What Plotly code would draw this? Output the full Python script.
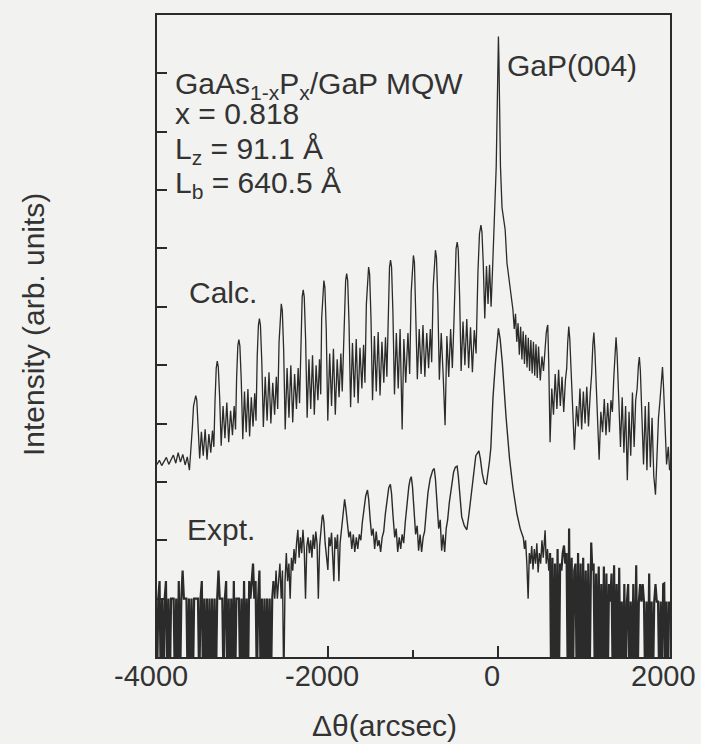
import plotly.graph_objects as go

# ---------------- data ----------------
# x: delta-theta in arcsec ; y: log10 intensity (decades, arbitrary offset)
NO_COUNTS = -0.6   # zero detector counts (log undefined -> drawn to the axis floor)
Z = NO_COUNTS

calc_dtheta = (
    [-4000, -3972, -3945, -3918, -3890, -3862, -3835, -3808, -3780, -3752, -3725, -3698, -3670, -3645, -3620, -3600, -3585, -3572, -3558]
    + [-3546, -3534, -3518, -3500, -3480, -3458, -3436, -3414, -3392, -3370, -3350, -3334, -3320, -3306]
    + [-3294, -3282, -3266, -3248, -3226, -3204, -3182, -3160, -3138, -3116, -3096, -3080, -3067, -3053]
    + [-3041, -3029, -3013, -2995, -2975, -2955, -2935, -2915, -2895, -2875, -2855, -2840, -2826, -2812]
    + [-2800, -2788, -2772, -2754, -2732, -2710, -2688, -2666, -2644, -2622, -2602, -2586, -2570, -2556]
    + [-2544, -2532, -2516, -2498, -2476, -2454, -2432, -2410, -2388, -2366, -2346, -2330, -2313, -2299]
    + [-2287, -2275, -2259, -2241, -2220, -2199, -2178, -2157, -2136, -2115, -2096, -2082, -2071, -2057]
    + [-2045, -2033, -2017, -1999, -1977, -1955, -1933, -1911, -1889, -1867, -1846, -1830, -1804, -1790]
    + [-1778, -1766, -1750, -1732, -1710, -1688, -1666, -1644, -1622, -1600, -1580, -1564, -1547, -1533]
    + [-1521, -1509, -1493, -1475, -1453, -1431, -1409, -1387, -1365, -1343, -1323, -1307, -1290, -1276]
    + [-1264, -1252, -1236, -1218, -1196, -1174, -1152, -1128, -1108, -1086, -1060, -1040, -1022, -1008]
    + [-996, -984, -968, -950, -928, -906, -884, -862, -840, -818, -798, -782, -764, -750]
    + [-738, -726, -710, -692, -670, -648, -625, -604, -582, -560, -540, -522, -509, -496]
    + [-483, -471, -455, -437, -415, -393, -371, -349, -327, -305, -283, -262, -240, -222]
    + [-205, -193, -178, -160, -140, -122, -104, -86, -70, -58, -42, -26, -12, -5]
    + [0, 5, 12, 24, 42, 79, 100, 125, 150]
    + [170, 185, 200, 215, 230, 245, 260, 275, 290, 305, 320, 335, 350, 365, 380, 395, 410, 425, 440, 455, 470, 490, 510, 528, 545, 560, 572]
    + [578, 590, 605, 625, 645, 665, 685, 705, 725, 745, 765, 785, 800, 812]
    + [824, 836, 860, 890, 915, 935, 955, 975, 995, 1015, 1035, 1055, 1075, 1092, 1106]
    + [1118, 1130, 1150, 1180, 1200, 1220, 1240, 1260, 1280, 1300, 1318, 1335, 1352, 1366]
    + [1378, 1390, 1408, 1430, 1450, 1470, 1490, 1510, 1530, 1550, 1570, 1590, 1608, 1625, 1640]
    + [1651, 1663, 1680, 1700, 1720, 1740, 1760, 1780, 1800, 1820, 1840, 1858, 1875, 1893, 1910]
    + [1922, 1935, 1950, 1970, 1990, 2005]
)
calc_logI = (
    [3.30, 3.37, 3.28, 3.35, 3.42, 3.30, 3.38, 3.46, 3.32, 3.50, 3.34, 3.47, 3.29, 3.43, 3.20, 3.55, 3.95, 4.30, 4.42]
    + [4.48, 4.40, 4.00, 3.40, 3.86, 3.45, 3.90, 3.38, 3.82, 3.50, 3.88, 3.60, 4.40, 4.95]
    + [5.07, 4.97, 4.45, 3.62, 4.30, 3.75, 4.36, 3.68, 4.22, 3.80, 4.30, 3.90, 4.80, 5.33]
    + [5.44, 5.33, 4.75, 3.73, 4.55, 3.85, 4.59, 3.78, 4.45, 3.95, 4.52, 4.05, 5.15, 5.68]
    + [5.80, 5.68, 5.05, 3.94, 4.80, 4.05, 4.88, 4.00, 4.70, 4.15, 4.80, 4.25, 5.40, 5.93]
    + [6.05, 5.93, 5.25, 3.90, 4.95, 4.10, 5.00, 4.02, 4.85, 4.25, 4.95, 4.35, 5.65, 6.17]
    + [6.29, 6.17, 5.45, 4.10, 5.10, 4.25, 5.17, 4.15, 5.00, 4.40, 5.10, 4.50, 5.80, 6.33]
    + [6.45, 6.33, 5.60, 4.05, 5.20, 4.30, 5.28, 4.15, 5.10, 4.45, 5.20, 4.55, 5.90, 6.45]
    + [6.57, 6.45, 5.70, 4.28, 5.38, 4.45, 5.45, 4.35, 5.30, 4.60, 5.35, 4.70, 6.05, 6.56]
    + [6.68, 6.56, 5.80, 4.40, 5.50, 4.55, 5.57, 4.48, 5.40, 4.70, 5.48, 4.80, 6.15, 6.68]
    + [6.80, 6.68, 5.90, 4.50, 5.55, 4.60, 5.62, 3.90, 5.45, 4.70, 5.55, 4.85, 6.25, 6.76]
    + [6.88, 6.76, 6.00, 4.76, 5.62, 4.85, 5.69, 4.80, 5.55, 4.95, 5.62, 5.05, 6.35, 6.85]
    + [6.97, 6.85, 6.10, 4.75, 5.55, 4.85, 3.97, 5.50, 4.80, 5.62, 4.95, 5.70, 6.50, 7.00]
    + [7.11, 6.98, 6.20, 4.90, 5.75, 5.00, 5.79, 4.95, 5.65, 4.88, 5.60, 5.20, 6.60, 7.25]
    + [7.40, 7.28, 6.75, 5.80, 6.70, 6.05, 6.72, 6.00, 6.60, 7.10, 7.60, 8.40, 9.60, 10.30]
    + [10.63, 10.30, 9.50, 8.40, 7.70, 7.32, 6.75, 6.45, 6.17]
    + [5.95, 5.62, 5.88, 5.40, 5.72, 5.18, 5.66, 5.10, 5.58, 5.02, 5.52, 4.96, 5.47, 4.90, 5.43, 4.86, 5.40, 4.82, 5.36, 4.78, 5.32, 4.74, 5.15, 4.90, 5.30, 5.55, 5.66]
    + [5.69, 5.00, 3.68, 4.60, 4.15, 4.85, 4.25, 4.92, 4.30, 4.80, 4.20, 4.75, 4.95, 5.40]
    + [5.66, 5.45, 4.60, 3.55, 4.30, 3.95, 4.60, 3.90, 4.55, 4.00, 4.63, 3.95, 4.50, 4.85, 5.35]
    + [5.56, 5.25, 4.40, 3.38, 4.20, 3.85, 4.42, 3.80, 4.35, 3.85, 4.40, 4.20, 4.80, 5.30]
    + [5.48, 5.20, 4.40, 3.60, 4.45, 3.50, 4.30, 3.03, 4.20, 3.45, 4.53, 3.60, 4.40, 4.60, 5.00]
    + [5.14, 4.90, 4.20, 3.30, 4.30, 3.20, 4.37, 3.25, 4.10, 3.10, 2.78, 3.60, 4.10, 4.40, 4.85]
    + [4.97, 4.60, 3.90, 3.30, 3.60, 3.20]
)

# Experiment: low-count tail on the left
expt_left_dtheta = [
    -4000, -3985, -3970, -3955, -3940, -3925, -3910, -3895, -3880, -3865,
    -3850, -3835, -3820, -3805, -3790, -3775, -3760, -3745, -3730, -3715,
    -3700, -3685, -3670, -3655, -3640, -3625, -3610, -3595, -3580, -3565,
    -3550, -3535, -3520, -3505, -3490, -3475, -3460, -3445, -3430, -3415,
    -3400, -3385, -3370, -3355, -3340, -3325, -3310, -3295, -3280, -3265,
    -3250, -3235, -3220, -3205, -3190, -3175, -3160, -3145, -3130, -3115,
    -3100, -3085, -3070, -3055, -3040, -3025, -3010, -2995, -2980, -2965,
    -2950, -2935, -2920, -2905, -2890, -2875, -2860, -2845, -2830, -2815,
    -2800, -2785, -2770, -2755, -2740, -2725, -2710, -2695, -2680, -2665, -2650]
expt_left_logI = [
    Z, 1.0, 1.3, Z, 1.0, Z, 1.0, 1.3, Z, 1.0,
    Z, 1.0, 1.0, 1.0, Z, 1.0, Z, 1.3, Z, 1.0,
    1.48, 1.0, 1.0, 1.0, Z, 1.0, Z, 1.0, Z, 1.0,
    1.0, 1.0, 1.0, Z, 1.0, 1.3, Z, 1.0, Z, 1.0,
    Z, 1.0, Z, 1.0, Z, 1.0, Z, 1.0, 1.48, 1.0,
    1.0, 1.0, Z, 1.0, 1.3, Z, 1.0, Z, 1.0, Z,
    1.3, Z, 1.0, 1.0, 1.0, Z, 1.0, Z, 1.3, Z,
    1.0, Z, 1.3, 1.0, 1.3, 1.6, 1.0, 1.3, Z, 1.0,
    1.48, Z, 1.0, Z, 1.0, Z, 1.0, Z, 1.0, Z, 1.0]

# Experiment: satellite region up to the substrate peak
expt_mid_dtheta = (
    [-2635, -2620, -2605, -2590, -2575, -2560, -2545, -2530, -2515, -2500, -2485, -2470, -2455, -2440, -2425, -2410, -2395, -2380, -2365, -2350,
     -2335, -2320, -2305, -2290, -2275, -2260, -2245, -2230, -2215, -2200, -2185, -2170, -2155, -2140, -2125, -2110, -2095, -2078, -2065]
    + [-2057, -2045, -2030, -2015, -1998, -1985, -1970, -1955, -1940, -1928, -1915, -1900, -1885, -1869, -1855, -1840, -1825, -1812]
    + [-1802, -1788, -1770, -1752, -1735, -1718, -1700, -1683, -1665, -1648, -1630, -1612, -1595, -1575, -1555]
    + [-1534, -1520, -1502, -1485, -1468, -1450, -1432, -1415, -1398, -1380, -1362, -1344, -1325, -1305, -1285]
    + [-1266, -1252, -1235, -1215, -1198, -1180, -1162, -1145, -1128, -1110, -1092, -1072, -1050, -1035]
    + [-1021, -1007, -990, -970, -952, -935, -918, -900, -882, -865, -845, -825, -800, -770]
    + [-752, -738, -720, -700, -682, -665, -648, -630, -612, -595, -575, -550, -525, -505]
    + [-484, -470, -452, -430, -400, -370, -345, -320, -295, -265]
    + [-229, -212, -190, -165, -141, -120, -105, -89, -64, -36, -15, 0, 20, 46, 90, 130, 170, 217, 255, 292]
    + [305, 318, 333, 348, 362, 376, 390, 405, 420, 435, 450, 465, 480, 495, 510, 525, 547, 560, 575, 590, 605]
)
expt_mid_logI = (
    [1.30, 1.0, 1.48, 1.0, 1.30, 1.60, 1.0, 1.48, Z, 1.30, 1.78, 1.30, 1.60, 1.0, 1.70, 1.48, 1.85, 1.60, 1.95, 2.18,
     1.70, 2.05, 1.78, 2.18, 1.85, 1.0, 1.90, 2.05, 1.78, 2.00, 1.70, 2.10, 1.85, 2.15, 1.95, 1.0, 1.90, 2.25, 2.40]
    + [2.44, 2.32, 1.95, 1.70, 1.49, 2.05, 1.90, 2.13, 1.78, 1.30, 2.05, 1.85, 2.10, 1.30, 1.95, 2.20, 2.45, 2.64]
    + [2.70, 2.55, 2.25, 2.05, 2.15, 1.85, 2.10, 1.80, 2.05, 1.85, 2.10, 2.00, 2.30, 2.55, 2.76]
    + [2.86, 2.70, 2.35, 2.08, 2.20, 1.85, 2.15, 1.90, 2.00, 1.80, 2.05, 2.15, 2.45, 2.72, 2.90]
    + [2.96, 2.80, 2.42, 2.05, 2.20, 1.80, 2.05, 1.85, 2.10, 1.95, 2.30, 2.62, 2.92, 3.04]
    + [3.09, 2.92, 2.50, 2.10, 2.25, 1.82, 2.10, 1.80, 2.05, 2.15, 2.50, 2.82, 3.05, 3.20]
    + [3.23, 3.05, 2.65, 2.20, 2.35, 1.82, 2.10, 1.80, 2.20, 2.35, 2.65, 2.95, 3.17, 3.25]
    + [3.27, 3.10, 2.75, 2.40, 2.25, 2.18, 2.45, 2.80, 3.15, 3.45]
    + [3.53, 3.40, 3.15, 2.98, 2.96, 3.15, 3.35, 3.58, 4.44, 5.03, 5.45, 5.63, 5.45, 5.03, 4.10, 3.40, 2.90, 2.45, 2.20, 2.04]
    + [1.85, 2.00, 1.60, 1.00, 1.78, 1.60, 1.90, 1.50, 1.85, 1.60, 1.95, 1.45, 1.78, 1.60, 2.00, 1.70, 2.17, 1.60, 1.85, 1.48, 1.78]
)

# Experiment: low-count tail on the right
expt_right_dtheta = [
    618, 633, 648, 663, 678, 693, 708, 723, 738, 753,
    768, 783, 798, 813, 828, 843, 858, 873, 888, 903,
    918, 933, 948, 963, 978, 993, 1008, 1023, 1038, 1053,
    1068, 1087, 1100, 1115, 1130, 1145, 1160, 1175, 1190, 1205,
    1220, 1235, 1250, 1265, 1280, 1295, 1310, 1325, 1340, 1355,
    1370, 1385, 1400, 1415, 1430, 1445, 1460, 1475, 1490, 1505,
    1520, 1535, 1550, 1565, 1580, 1595, 1614, 1630, 1645, 1660,
    1675, 1690, 1705, 1720, 1735, 1750, 1766, 1780, 1795, 1810,
    1825, 1840, 1855, 1870, 1885, 1900, 1915, 1930, 1942, 1955,
    1970, 1985, 2000]
expt_right_logI = [
    Z, 1.70, Z, 1.60, Z, 1.85, Z, 1.60, 1.48, 1.78,
    1.91, 1.60, 1.78, Z, 2.20, Z, 1.70, Z, 1.48, 1.60,
    Z, 1.78, Z, 1.60, Z, 1.70, Z, 1.48, Z, 1.60,
    Z, 1.96, 1.48, 1.60, Z, 1.43, Z, 1.55, Z, 1.25,
    Z, 1.55, Z, 1.43, Z, 1.25, 0.95, 1.43, Z, 1.57,
    Z, 1.25, Z, 1.53, Z, 0.95, Z, 1.25, Z, 0.95,
    1.25, Z, 0.95, Z, 1.25, Z, 1.57, Z, 0.95, 1.25,
    0.95, 1.25, 0.95, Z, 0.95, Z, 1.43, Z, 0.95, Z,
    0.95, 1.25, 0.95, 0.95, Z, 0.95, Z, 1.25, 1.26, Z,
    0.95, Z, 0.95]

x_tick_vals = [-4000, -2000, 0, 2000]
x_tick_text = ["-4000", "-2000", "0", "2000"]
x_minor_vals = [-3000, -1000, 1000]
y_tick_vals = [1, 2, 3, 4, 5, 6, 7, 8, 9, 10]

# ---------------- figure ----------------
INK = "#2b2b2b"
BG = "#f2f2f0"
FONT = "Liberation Sans, Arial, Helvetica, sans-serif"
TXT = "#333333"

fig = go.Figure()
fig.add_trace(go.Scatter(x=calc_dtheta, y=calc_logI, mode="lines",
                         line=dict(color=INK, width=1.3), showlegend=False, hoverinfo="skip"))
# experimental scan: low-count tails drawn with a heavier stroke (dense zero-count drops)
fig.add_trace(go.Scatter(x=expt_left_dtheta + expt_mid_dtheta[:1], y=expt_left_logI + expt_mid_logI[:1],
                         mode="lines", line=dict(color=INK, width=2.2), showlegend=False, hoverinfo="skip"))
fig.add_trace(go.Scatter(x=expt_mid_dtheta, y=expt_mid_logI, mode="lines",
                         line=dict(color=INK, width=1.4), showlegend=False, hoverinfo="skip"))
fig.add_trace(go.Scatter(x=expt_mid_dtheta[-1:] + expt_right_dtheta, y=expt_mid_logI[-1:] + expt_right_logI,
                         mode="lines", line=dict(color=INK, width=2.2), showlegend=False, hoverinfo="skip"))

fig.update_layout(
    width=701, height=744,
    margin=dict(l=157, r=31, t=15, b=87),
    paper_bgcolor=BG, plot_bgcolor=BG,
    font=dict(family=FONT, size=29, color=TXT),
)
fig.update_xaxes(
    range=[-4000, 2010], tickmode="array", tickvals=x_tick_vals, showticklabels=False,
    ticks="inside", ticklen=11, tickwidth=1.5, tickcolor=INK,
    minor=dict(tickmode="array", tickvals=x_minor_vals, ticks="inside", ticklen=7,
               tickwidth=1.5, tickcolor=INK, showgrid=False),
    showline=True, linecolor=INK, linewidth=1.6, mirror=True,
    showgrid=False, zeroline=False,
)
fig.update_yaxes(
    range=[0, 11], tickmode="array", tickvals=y_tick_vals, showticklabels=False,
    ticks="inside", ticklen=10, tickwidth=1.5, tickcolor=INK,
    showline=True, linecolor=INK, linewidth=1.6, mirror=True,
    showgrid=False, zeroline=False,
)

# x tick labels (plain hyphen minus as in the original)
for v, t in zip(x_tick_vals, x_tick_text):
    fig.add_annotation(text=t, x=v, y=-0.0296, xref="x", yref="paper", showarrow=False,
                       xanchor="center", yanchor="middle", xshift=-6,
                       font=dict(family=FONT, size=29, color=TXT))

ann_font = dict(family=FONT, size=30, color=TXT)
labels = [
    ("GaAs<sub>1-x</sub>P<sub>x</sub>/GaP MQW", -3813, 9.80),
    ("x = 0.818", -3813, 9.32),
    ("L<sub>z</sub> = 91.1 Å", -3813, 8.67),
    ("L<sub>b</sub> = 640.5 Å", -3813, 8.10),
    ("GaP(004)", 77, 10.13),
    ("Calc.", -3649, 6.25),
    ("Expt.", -3672, 2.18),
]
for txt, xx, yy in labels:
    fig.add_annotation(text=txt, x=xx, y=yy, xref="x", yref="y", showarrow=False,
                       xanchor="left", yanchor="middle", font=ann_font)

fig.add_annotation(text="Δθ(arcsec)", x=0.444, y=-0.106, xref="paper", yref="paper",
                   showarrow=False, xanchor="center", yanchor="middle", font=ann_font)
fig.add_annotation(text="Intensity (arb. units)", x=-0.2417, y=0.517, xref="paper", yref="paper",
                   showarrow=False, textangle=-90, xanchor="center", yanchor="middle", font=ann_font)

fig.write_html("out.html", config={"displayModeBar": False},
               post_script="document.body.style.margin='0';document.body.style.padding='0';")
